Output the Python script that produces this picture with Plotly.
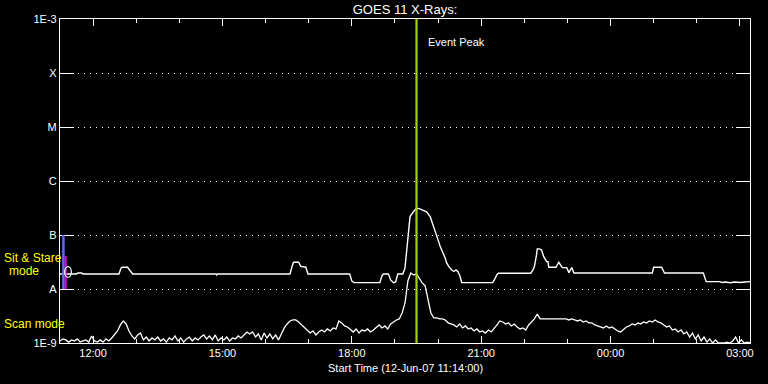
import numpy as np
import pandas as pd
import plotly.graph_objects as go

# ---------------- data ----------------
START = pd.Timestamp("2007-06-12 11:14")
END = pd.Timestamp("2007-06-13 03:14")
PEAK = pd.Timestamp("2007-06-12 19:30")

# Scan-mode (lower) curve, flux in units of 1e-9 W/m^2, one sample every 4 minutes from START
scan_step_min = 4
scan_flux_1e9 = [
    1.09, 1.19, 1.14, 1.04, 1.14, 1.09, 1.19, 1.04, 1.09, 1.14,
    1.04, 1.35, 1.09, 1.04, 1.14, 1.04, 1.19, 1.09, 1.24, 1.41,
    1.67, 2.16, 2.56, 2.25, 1.67, 1.35, 1.19, 1.41, 1.53, 1.14,
    1.29, 1.09, 1.24, 1.14, 1.29, 1.09, 1.19, 1.04, 1.24, 1.14,
    1.35, 1.09, 1.24, 1.04, 1.19, 1.29, 1.09, 1.24, 1.14, 1.29,
    1.41, 1.19, 1.35, 1.14, 1.41, 1.09, 1.24, 1.14, 1.29, 1.09,
    1.24, 1.19, 1.35, 1.24, 1.41, 1.60, 1.47, 1.60, 1.29, 1.47,
    1.14, 1.53, 1.24, 1.47, 1.19, 1.41, 1.14, 1.53, 1.90, 2.25,
    2.56, 2.67, 2.67, 2.45, 2.16, 1.90, 1.74, 1.53, 1.67, 1.41,
    1.60, 1.74, 1.60, 1.82, 1.67, 1.90, 1.82, 2.56, 2.35, 2.07,
    1.98, 1.74, 1.60, 1.82, 1.53, 1.74, 1.67, 1.82, 1.60, 1.74,
    1.98, 2.16, 1.90, 2.07, 1.82, 2.25, 2.45, 2.67, 2.79, 3.60,
    5.51, 14.1, 19.8, 18.2, 19.0, 15.4, 13.0, 11.4, 6.83, 3.60,
    2.91, 2.91, 2.79, 2.79, 2.67, 2.35, 2.25, 2.16, 1.98, 2.25,
    1.90, 2.07, 1.82, 1.90, 1.67, 1.82, 1.60, 1.67, 1.53, 1.74,
    1.60, 1.82, 2.16, 2.56, 2.45, 2.25, 2.35, 2.07, 2.25, 1.98,
    1.82, 1.90, 1.74, 2.16, 2.45, 2.79, 3.45, 2.79, 2.79, 2.79,
    2.79, 2.79, 2.79, 2.79, 2.79, 2.79, 2.79, 2.67, 2.79, 2.67,
    2.56, 2.67, 2.45, 2.56, 2.35, 2.35, 2.16, 2.07, 1.98, 1.90,
    2.07, 1.90, 1.98, 1.82, 1.67, 1.60, 1.82, 1.98, 2.07, 2.25,
    2.16, 2.35, 2.25, 2.45, 2.35, 2.56, 2.45, 2.67, 2.45, 2.35,
    2.16, 1.98, 2.07, 1.74, 1.82, 1.60, 1.74, 1.47, 1.60, 1.29,
    1.53, 1.19, 1.41, 1.09, 1.29, 1.04, 1.19, 1.00, 1.14, 1.00,
    1.00, 1.00, 1.04, 1.00, 1.09, 1.29, 1.00, 1.14, 1.00, 1.04,
    1.00,
]

# Sit & Stare (upper) curve: minutes after START, flux in units of 1e-9 W/m^2
stare_minutes = [
    0, 23, 25, 30, 32, 82, 85, 87, 94, 99, 101, 217, 218, 219, 320, 323, 325, 332, 335, 342,
    345, 403, 406, 409, 445, 448, 450, 457, 460, 464, 467, 470, 477, 480, 482, 485, 487, 491,
    495, 499, 503, 507, 510, 515, 519, 522, 526, 529, 533, 536, 538, 541, 545, 548, 551, 554,
    555, 556, 559, 602, 605, 608, 610, 655, 658, 660, 663, 664, 667, 670, 673, 677, 679, 680,
    690, 694, 698, 699, 705, 708, 712, 715, 824, 826, 837, 841, 895, 897, 899, 918, 921, 926,
    932, 939, 946, 953, 960,
]
stare_flux_1e9 = [
    19.0, 19.0, 19.8, 19.8, 19.0, 19.0, 24.6, 25.3, 25.3, 19.8, 19.0, 19.0, 18.2, 19.0, 19.0, 26.7, 31.3, 31.3, 26.2, 25.3,
    19.0, 19.0, 14.1, 13.1, 13.1, 17.5, 19.0, 19.0, 14.7, 13.1, 13.5, 19.0, 19.0, 24.6, 48.6, 100.0, 219.0, 262.0,
    305.0, 311.0, 298.0, 280.0, 268.0, 219.0, 147.0, 109.0, 81.2, 61.0, 46.6, 37.2, 30.4, 26.0, 22.5, 21.1, 22.5, 20.7,
    19.0, 18.2, 13.1, 13.1, 15.4, 18.6, 19.6, 19.6, 22.5, 26.0, 42.8, 55.3, 55.3, 52.9, 39.8, 32.1, 32.1, 25.3,
    25.3, 31.3, 26.0, 24.9, 24.9, 20.1, 24.9, 19.8, 19.8, 25.3, 25.3, 19.8, 19.8, 16.7, 13.7, 13.7, 13.2, 13.5,
    13.1, 13.5, 13.2, 13.5, 13.7,
]

# GOES class levels
level_values = [1e-9, 1e-8, 1e-7, 1e-6, 1e-5, 1e-4, 1e-3]
level_labels = ["1E-9", "A", "B", "C", "M", "X", "1E-3"]

# Sit & Stare indicator bars: (start, end, flux low, flux high, colour)
bar_starts = ["2007-06-12 11:17:00", "2007-06-12 11:20:30"]
bar_ends = ["2007-06-12 11:20:30", "2007-06-12 11:23:18"]
bar_low = [1e-8, 1e-8]
bar_high = [1e-7, 4.1e-8]
bar_colors = ["#6464ff", "#e000e0"]
marker_oval = ("2007-06-12 11:20:30", "2007-06-12 11:29:48", 1.65e-8, 2.6e-8)

# ---------------- figure ----------------
scan_times = START + pd.to_timedelta(np.arange(len(scan_flux_1e9)) * scan_step_min, unit="min")
scan_flux = np.array(scan_flux_1e9) * 1e-9
stare_times = START + pd.to_timedelta(np.array(stare_minutes), unit="min")
stare_flux = np.array(stare_flux_1e9) * 1e-9

FONT = "Liberation Sans"
fig = go.Figure()
fig.add_trace(go.Scatter(x=stare_times, y=stare_flux, mode="lines",
                         line=dict(color="white", width=1.4), hoverinfo="skip"))
fig.add_trace(go.Scatter(x=scan_times, y=scan_flux, mode="lines",
                         line=dict(color="white", width=1.3), hoverinfo="skip"))

shapes = []
for s, e, lo, hi, c in zip(bar_starts, bar_ends, bar_low, bar_high, bar_colors):
    shapes.append(dict(type="rect", xref="x", yref="y", x0=s, x1=e, y0=lo, y1=hi,
                       fillcolor=c, line=dict(width=0), layer="above"))
shapes.append(dict(type="circle", xref="x", yref="y", x0=marker_oval[0], x1=marker_oval[1],
                   y0=marker_oval[2], y1=marker_oval[3], line=dict(color="white", width=1.2),
                   layer="above"))
shapes.append(dict(type="line", xref="x", yref="paper", x0=PEAK, x1=PEAK, y0=0, y1=1,
                   line=dict(color="#a4d400", width=2.2), layer="above"))

annotations = [
    dict(text="Event Peak", x=PEAK, xref="x", y=0.9275, yref="paper", xanchor="left",
         yanchor="middle", xshift=9, showarrow=False, font=dict(color="white", size=11, family=FONT)),
    dict(text="Start Time (12-Jun-07 11:14:00)", x=0.5, xref="paper", y=-0.077, yref="paper",
         xanchor="center", yanchor="middle", showarrow=False,
         font=dict(color="white", size=11, family=FONT)),
    dict(text="Sit & Stare", x=-0.0845, xref="paper", y=0.262, yref="paper", xanchor="left",
         yanchor="middle", showarrow=False, font=dict(color="#ffff00", size=12, family=FONT)),
    dict(text="mode", x=-0.052, xref="paper", y=0.222, yref="paper", xanchor="center",
         yanchor="middle", showarrow=False, font=dict(color="#ffff00", size=12, family=FONT)),
    dict(text="Scan mode", x=-0.0845, xref="paper", y=0.060, yref="paper", xanchor="left",
         yanchor="middle", showarrow=False, font=dict(color="#ffff00", size=12, family=FONT)),
]

fig.update_layout(
    width=768, height=384,
    margin=dict(l=60, r=18, t=19, b=41),
    paper_bgcolor="black", plot_bgcolor="black",
    showlegend=False,
    title=dict(text="GOES 11 X-Rays:", x=0.5, xref="paper", y=1 - 9.5 / 384, yref="container",
               xanchor="center", yanchor="middle", font=dict(color="white", size=13, family=FONT)),
    shapes=shapes, annotations=annotations,
    font=dict(family=FONT, color="white", size=11),
)
fig.update_xaxes(
    type="date", range=[START, END],
    tick0="2007-06-12 00:00", dtick=3 * 3600 * 1000, tickformat="%H:%M",
    ticks="inside", ticklen=7, tickwidth=1, tickcolor="white",
    minor=dict(ticks="inside", ticklen=4, dtick=3600 * 1000, tickcolor="white", showgrid=False),
    showline=True, linecolor="white", linewidth=1.2, mirror="allticks",
    showgrid=False, zeroline=False,
    tickfont=dict(color="white", size=11, family=FONT),
)
fig.update_yaxes(
    type="log", range=[-9, -3],
    tickvals=level_values, ticktext=level_labels,
    ticks="inside", ticklen=14, tickwidth=1, tickcolor="white",
    showline=True, linecolor="white", linewidth=1.2, mirror="allticks",
    showgrid=True, gridcolor="white", gridwidth=1, griddash="1px,5px",
    zeroline=False,
    tickfont=dict(color="white", size=11, family=FONT),
)

fig.write_html("out.html")
